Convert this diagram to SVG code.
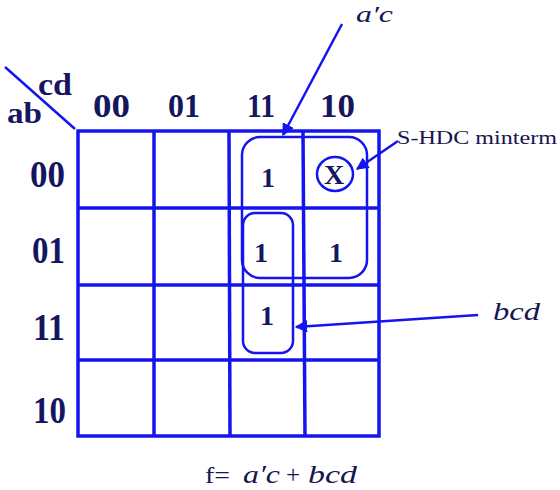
<svg xmlns="http://www.w3.org/2000/svg" width="560" height="490" viewBox="0 0 560 490">
  <style>
    .grid { fill: none; stroke: #1414f0; stroke-width: 3.5; }
    .loop { fill: none; stroke: #1414f0; stroke-width: 2.5; }
    .lead { fill: none; stroke: #1414f0; stroke-width: 2.5; }
    .hdr { font-family: "Liberation Serif", "DejaVu Serif", serif; font-weight: bold; fill: #161660; }
    .cell { font-family: "Liberation Serif", "DejaVu Serif", serif; font-weight: bold; font-size: 28px; fill: #161660; text-anchor: middle; }
    .lbl { font-family: "Liberation Serif", "DejaVu Serif", serif; fill: #161650; }
    .it { font-style: italic; }
  </style>
  <defs>
    <marker id="arrow" viewBox="0 0 10 10" refX="9" refY="5" markerWidth="5" markerHeight="5" orient="auto-start-reverse" markerUnits="strokeWidth">
      <path d="M0,0 L10,5 L0,10 z" fill="#1414f0"/>
    </marker>
  </defs>

  <rect width="560" height="490" fill="#ffffff"/>

  <!-- K-map grid -->
  <g id="kmap-grid">
    <rect class="grid" x="78" y="131" width="301" height="305" stroke-width="4"/>
    <line class="grid" x1="154" y1="131" x2="154" y2="436"/>
    <line class="grid" x1="229" y1="131" x2="230" y2="436"/>
    <line class="grid" x1="303" y1="131" x2="305" y2="436"/>
    <line class="grid" x1="78" y1="208" x2="379" y2="208"/>
    <line class="grid" x1="78" y1="285" x2="379" y2="285"/>
    <line class="grid" x1="78" y1="360" x2="379" y2="360"/>
  </g>

  <!-- corner: variables -->
  <g id="corner">
    <line x1="5" y1="67" x2="75" y2="129" stroke="#1414f0" stroke-width="2.5"/>
    <text class="hdr" x="38" y="95" font-size="31" textLength="34" lengthAdjust="spacingAndGlyphs">cd</text>
    <text class="hdr" x="7" y="123" font-size="30" textLength="35" lengthAdjust="spacingAndGlyphs">ab</text>
  </g>

  <!-- column headers -->
  <g id="col-headers">
    <text class="hdr" x="93" y="117" font-size="33" textLength="37" lengthAdjust="spacingAndGlyphs">00</text>
    <text class="hdr" x="168" y="117" font-size="33" textLength="32" lengthAdjust="spacingAndGlyphs">01</text>
    <text class="hdr" x="247" y="117" font-size="33" textLength="28" lengthAdjust="spacingAndGlyphs">11</text>
    <text class="hdr" x="320" y="117" font-size="33" textLength="35" lengthAdjust="spacingAndGlyphs">10</text>
  </g>

  <!-- row headers -->
  <g id="row-headers">
    <text class="hdr" x="30" y="187" font-size="37" textLength="35" lengthAdjust="spacingAndGlyphs">00</text>
    <text class="hdr" x="32" y="263" font-size="37" textLength="33" lengthAdjust="spacingAndGlyphs">01</text>
    <text class="hdr" x="33" y="340" font-size="38" textLength="32" lengthAdjust="spacingAndGlyphs">11</text>
    <text class="hdr" x="33" y="423" font-size="38" textLength="33" lengthAdjust="spacingAndGlyphs">10</text>
  </g>

  <!-- cell values -->
  <g id="cells">
    <text class="cell" x="268" y="187">1</text>
    <text class="cell" x="261" y="262">1</text>
    <text class="cell" x="336" y="262">1</text>
    <text class="cell" x="267" y="325">1</text>
    <g id="dont-care">
      <ellipse class="loop" cx="335" cy="174" rx="18" ry="17"/>
      <text class="cell" x="334" y="184" font-size="29">X</text>
    </g>
  </g>

  <!-- groupings -->
  <g id="loop-ac">
    <rect class="loop" x="242" y="137" width="125" height="141" rx="18" ry="18"/>
  </g>
  <g id="loop-bcd">
    <rect class="loop" x="243" y="213" width="50" height="140" rx="12" ry="12"/>
  </g>

  <!-- connectors -->
  <g id="connectors">
    <line class="lead" x1="342" y1="24" x2="283" y2="135" marker-end="url(#arrow)"/>
    <line class="lead" x1="398" y1="141" x2="357" y2="169" marker-end="url(#arrow)"/>
    <line class="lead" x1="478" y1="315" x2="296" y2="327" marker-end="url(#arrow)"/>
  </g>

  <!-- labels -->
  <g id="label-ac">
    <text class="lbl it" x="356" y="22" font-size="23" textLength="37" lengthAdjust="spacingAndGlyphs">a′c</text>
  </g>
  <g id="label-shdc">
    <text class="lbl" x="397" y="144" font-size="19" textLength="160" lengthAdjust="spacingAndGlyphs">S-HDC minterm</text>
  </g>
  <g id="label-bcd">
    <text class="lbl it" x="493" y="320" font-size="26" textLength="47" lengthAdjust="spacingAndGlyphs">bcd</text>
  </g>
  <g id="formula">
    <text class="lbl" x="205" y="483" font-size="24" textLength="25" lengthAdjust="spacingAndGlyphs">f=</text>
    <text class="lbl it" x="243" y="483" font-size="25" textLength="37" lengthAdjust="spacingAndGlyphs">a′c</text>
    <text class="lbl" x="286" y="483" font-size="25">+</text>
    <text class="lbl it" x="308" y="483" font-size="25" textLength="49" lengthAdjust="spacingAndGlyphs">bcd</text>
  </g>
</svg>
